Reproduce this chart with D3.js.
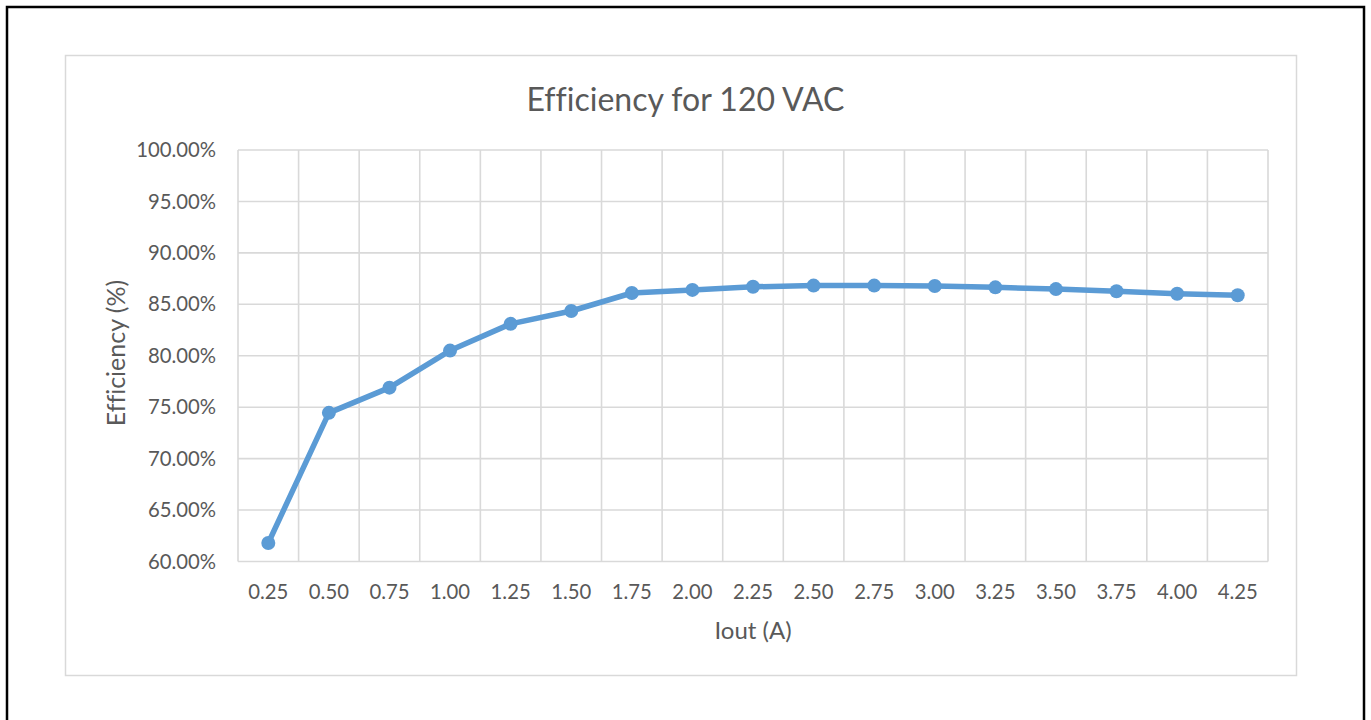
<!DOCTYPE html>
<html>
<head>
<meta charset="utf-8">
<script src="https://cdn.jsdelivr.net/npm/d3@7"></script>
<style>
  html, body { margin: 0; padding: 0; background: #ffffff; }
  svg { display: block; }
  text { font-family: Lato, "Open Sans", sans-serif; fill: #595959; font-variant-ligatures: none; }
</style>
</head>
<body>
<svg id="chart" width="1371" height="720"></svg>
<script>
// Output current (A) categories
const currents = ["0.25", "0.50", "0.75", "1.00", "1.25", "1.50", "1.75", "2.00", "2.25",
                  "2.50", "2.75", "3.00", "3.25", "3.50", "3.75", "4.00", "4.25"];
// Measured efficiency (%) at each current
const efficiency = [61.8, 74.45, 76.9, 80.5, 83.1, 84.35, 86.1, 86.4, 86.7,
                    86.82, 86.82, 86.78, 86.65, 86.48, 86.27, 86.03, 85.88];
// Value axis ticks (%)
const yTicks = [60, 65, 70, 75, 80, 85, 90, 95, 100];

const title = "Efficiency for 120 VAC";
const xTitle = "Iout (A)";
const yTitle = "Efficiency (%)";

const svg = d3.select("#chart");

// page frame
svg.append("rect")
  .attr("x", 7).attr("y", 7).attr("width", 1357).attr("height", 720)
  .attr("fill", "none").attr("stroke", "#000").attr("stroke-width", 2.5);

// chart area border
svg.append("rect")
  .attr("x", 65.5).attr("y", 55.5).attr("width", 1231).attr("height", 620)
  .attr("fill", "#fff").attr("stroke", "#d9d9d9").attr("stroke-width", 1.5);

const plot = { left: 238, right: 1268, top: 150, bottom: 561.5 };

const x = d3.scaleBand().domain(currents).range([plot.left, plot.right]).padding(0);
const y = d3.scaleLinear().domain([60, 100]).range([plot.bottom, plot.top]);

const g = svg.append("g");

// horizontal gridlines
g.selectAll("line.hgrid").data(yTicks).join("line")
  .attr("class", "hgrid")
  .attr("x1", plot.left).attr("x2", plot.right)
  .attr("y1", d => y(d)).attr("y2", d => y(d))
  .attr("stroke", "#d9d9d9").attr("stroke-width", 1.6);

// vertical gridlines at category boundaries
const bounds = currents.map(c => x(c)).concat([plot.right]);
g.selectAll("line.vgrid").data(bounds).join("line")
  .attr("class", "vgrid")
  .attr("x1", d => d).attr("x2", d => d)
  .attr("y1", plot.top).attr("y2", plot.bottom)
  .attr("stroke", "#d9d9d9").attr("stroke-width", 1.6);

// y tick labels
g.selectAll("text.ytick").data(yTicks).join("text")
  .attr("class", "ytick")
  .attr("x", plot.left - 22).attr("y", d => y(d))
  .attr("dy", "0.35em").attr("text-anchor", "end")
  .style("font-size", "20.3px")
  .text(d => d3.format(".2f")(d) + "%");

// x tick labels
g.selectAll("text.xtick").data(currents).join("text")
  .attr("class", "xtick")
  .attr("x", d => x(d) + x.bandwidth() / 2).attr("y", 592)
  .attr("dy", "0.35em").attr("text-anchor", "middle")
  .style("font-size", "20.3px")
  .text(d => d);

// series line
const line = d3.line()
  .x((d, i) => x(currents[i]) + x.bandwidth() / 2)
  .y(d => y(d));

g.append("path")
  .datum(efficiency)
  .attr("d", line)
  .attr("fill", "none")
  .attr("stroke", "#5b9bd5")
  .attr("stroke-width", 5.5)
  .attr("stroke-linejoin", "round")
  .attr("stroke-linecap", "round");

g.selectAll("circle.pt").data(efficiency).join("circle")
  .attr("class", "pt")
  .attr("cx", (d, i) => x(currents[i]) + x.bandwidth() / 2)
  .attr("cy", d => y(d))
  .attr("r", 7)
  .attr("fill", "#5b9bd5");

// titles
svg.append("text")
  .attr("x", 685.5).attr("y", 100).attr("dy", "0.35em")
  .attr("text-anchor", "middle")
  .style("font-size", "32px")
  .text(title);

svg.append("text")
  .attr("x", 753).attr("y", 631).attr("dy", "0.35em")
  .attr("text-anchor", "middle")
  .style("font-size", "24px")
  .text(xTitle);

svg.append("text")
  .attr("transform", "translate(116,353) rotate(-90)")
  .attr("dy", "0.35em")
  .attr("text-anchor", "middle")
  .style("font-size", "25px")
  .text(yTitle);
</script>
</body>
</html>
